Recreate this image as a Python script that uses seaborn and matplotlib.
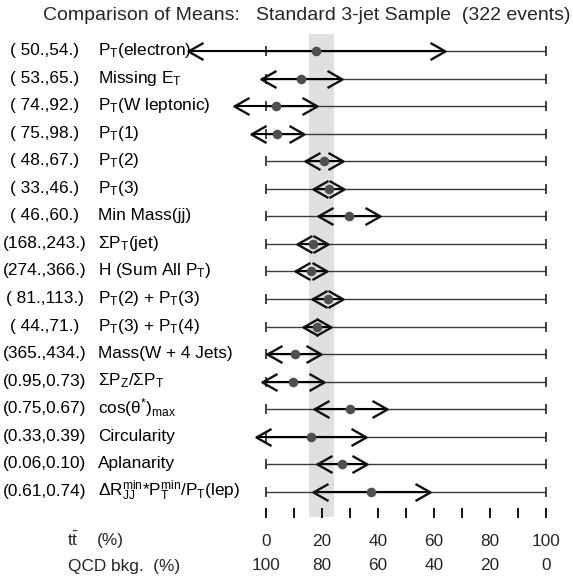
import numpy as np
import pandas as pd
import matplotlib
matplotlib.use("Agg")
import matplotlib.pyplot as plt
from matplotlib.path import Path
from matplotlib.markers import MarkerStyle
import seaborn as sns

# ---- data -------------------------------------------------------------
labels = [
    r"P$_\mathrm{T}$(electron)",
    r"Missing E$_\mathrm{T}$",
    r"P$_\mathrm{T}$(W leptonic)",
    r"P$_\mathrm{T}$(1)",
    r"P$_\mathrm{T}$(2)",
    r"P$_\mathrm{T}$(3)",
    r"Min Mass(jj)",
    r"ΣP$_\mathrm{T}$(jet)",
    r"H (Sum All P$_\mathrm{T}$)",
    r"P$_\mathrm{T}$(2) + P$_\mathrm{T}$(3)",
    r"P$_\mathrm{T}$(3) + P$_\mathrm{T}$(4)",
    r"Mass(W + 4 Jets)",
    r"ΣP$_\mathrm{Z}$/ΣP$_\mathrm{T}$",
    r"cos(θ$^{*}$)$_\mathrm{max}$",
    r"Circularity",
    r"Aplanarity",
    r"ΔR$^\mathrm{min}_\mathrm{JJ}$*P$^\mathrm{min}_\mathrm{T}$/P$_\mathrm{T}$(lep)",
]
mean_pairs = [
    "( 50.,54.)", "( 53.,65.)", "( 74.,92.)", "( 75.,98.)", "( 48.,67.)",
    "( 33.,46.)", "( 46.,60.)", "(168.,243.)", "(274.,366.)", "( 81.,113.)",
    "( 44.,71.)", "(365.,434.)", "(0.95,0.73)", "(0.75,0.67)", "(0.33,0.39)",
    "(0.06,0.10)", "(0.61,0.74)",
]
# estimated ttbar fraction (%) per variable: lower edge, central value, upper edge
frac_lo = [-27.6, -1.8, -11.2, -5.2, 14.0, 16.8, 18.8, 11.3, 10.6, 16.4,
           13.2, 0.3, -1.4, 17.4, -3.6, 18.2, 16.8]
frac_mean = [17.9, 12.6, 3.7, 4.2, 20.8, 22.6, 29.7, 16.8, 16.3, 22.1,
             18.2, 10.3, 9.6, 30.2, 16.2, 27.1, 37.6]
frac_hi = [64.0, 27.3, 18.3, 13.7, 27.7, 27.9, 40.8, 22.2, 22.0, 27.7,
           23.2, 19.7, 20.8, 43.2, 35.8, 36.0, 58.6]
band = (15.5, 24.3)                 # combined ttbar fraction range
tt_ticks = [0, 20, 40, 60, 80, 100]
qcd_ticks = [100, 80, 60, 40, 20, 0]
minor_ticks = list(range(0, 101, 10))

df = pd.DataFrame({"label": labels, "pair": mean_pairs, "lo": frac_lo,
                   "mean": frac_mean, "hi": frac_hi})
df["row"] = np.arange(len(df))

# ---- style ------------------------------------------------------------
sns.set_theme(style="white")
plt.rcParams["font.family"] = ["Liberation Sans", "DejaVu Sans"]
plt.rcParams["mathtext.fontset"] = "custom"
plt.rcParams["mathtext.rm"] = "Liberation Sans"
plt.rcParams["mathtext.it"] = "Liberation Sans:italic"
plt.rcParams["mathtext.bf"] = "Liberation Sans:bold"

W, H = 573, 587
fig = plt.figure(figsize=(W / 100, H / 100), dpi=100)
ax = fig.add_axes([0, 0, 1, 1])
ax.set_axis_off()

# pixel geometry of the panel
X0, X100 = 265.7, 546.0        # pixel x of 0% and 100%
ROW0, DROW = 51.0, 27.56       # pixel y of first row and row spacing
sx = (X100 - X0) / 100.0
ax.set_xlim(-X0 / sx, (W - X0) / sx)
ax.set_ylim((H - ROW0) / DROW, -ROW0 / DROW)


def px_to_row(py):
    return (py - ROW0) / DROW


def fx(px):
    return px / W


# highlighted band
ax.axvspan(band[0], band[1], ymin=1 - 517 / H, ymax=1 - 34 / H,
           color="#e0e0e0", lw=0, zorder=0)

rows = df["row"].to_numpy()

# base scale lines with end ticks
ax.hlines(rows, 0, 100, color="#3a3a3a", lw=1.0, zorder=1)
for xend in (0, 100):
    ax.plot([xend] * len(rows), rows, ls="none", marker="|", ms=7.2,
            mew=1.2, color="#222222", zorder=2)

# interval lines
ax.hlines(rows, df["lo"], df["hi"], color="black", lw=1.5, zorder=2)

# open chevron arrowheads
left_path = Path([(15, 8.5), (0, 0), (15, -8.5)],
                 [Path.MOVETO, Path.LINETO, Path.LINETO])
right_path = Path([(-15, 8.5), (0, 0), (-15, -8.5)],
                  [Path.MOVETO, Path.LINETO, Path.LINETO])
for pth, col in ((left_path, "lo"), (right_path, "hi")):
    ax.plot(df[col], rows, ls="none",
            marker=MarkerStyle(pth, joinstyle="miter"),
            ms=21.6, mfc="none", mec="#111111", mew=1.7, zorder=3)

# central values
sns.scatterplot(data=df, x="mean", y="row", ax=ax, color="#4f4f4f",
                s=48, linewidth=0, zorder=4, legend=False)

# text columns
fs = 12.4
for r, lab, pair in zip(rows, df["label"], df["pair"]):
    yb = r + 4.0 / DROW
    ax.text(44.5 / sx - X0 / sx, yb, pair, ha="center", va="baseline",
            fontsize=fs, color="black")
    ax.text(98 / sx - X0 / sx, yb, lab, ha="left", va="baseline",
            fontsize=fs, color="black")

# minor tick row
ax.plot(minor_ticks, [px_to_row(513)] * len(minor_ticks), ls="none",
        marker="|", ms=7.2, mew=1.3, color="black")

# percentage scales
y_tt = px_to_row(545.5)
y_qcd = px_to_row(570.5)
for v in tt_ticks:
    ax.text(v, y_tt, str(v), ha="center", va="baseline", fontsize=fs)
for v, lab in zip(tt_ticks, qcd_ticks):
    ax.text(v, y_qcd, str(lab), ha="center", va="baseline", fontsize=fs)
ax.text((67 - X0) / sx, y_tt, r"t$\bar{\mathrm{t}}$", ha="left",
        va="baseline", fontsize=fs)
ax.text((97 - X0) / sx, y_tt, "(%)", ha="left", va="baseline", fontsize=fs)
ax.text((68 - X0) / sx, y_qcd, "QCD bkg.  (%)", ha="left", va="baseline",
        fontsize=fs)

# title
ax.text((307 - X0) / sx, px_to_row(20),
        "Comparison of Means:   Standard 3-jet Sample  (322 events)",
        ha="center", va="baseline", fontsize=14)

fig.savefig("out.png", dpi=100)
